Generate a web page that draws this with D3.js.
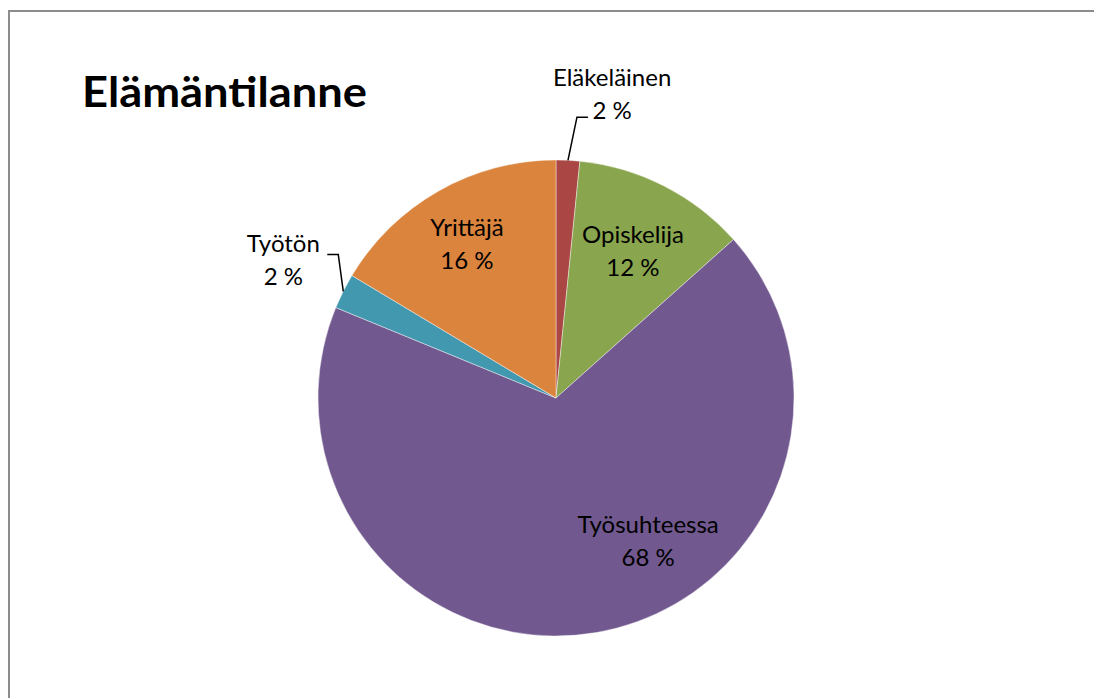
<!DOCTYPE html>
<html>
<head>
    <style>
        body { margin: 0; background: #fff; }
        svg { display: block; }
        .lbl { font-family: Lato, "Open Sans", sans-serif; font-size: 24px; fill: #000; text-anchor: middle; }
        .title { font-family: Lato, "Open Sans", sans-serif; font-size: 42px; font-weight: bold; fill: #000; }
    </style>
    <script src="https://d3js.org/d3.v7.min.js"></script>
</head>
<body>
    <svg width="1094" height="698"></svg>
    <script>
        // data
        var categories = ["Eläkeläinen", "Opiskelija", "Työsuhteessa", "Työtön", "Yrittäjä"];
        var shares = [1.6, 11.8, 67.8, 2.4, 16.4];
        var pctLabels = ["2 %", "12 %", "68 %", "2 %", "16 %"];
        var colors = ["#AA4643", "#89A54E", "#71588F", "#4198AF", "#DB843D"];

        // label placement (polar: radius, angle in degrees clockwise from top)
        var labelPlace = {
            "Eläkeläinen": { r: 308, a: 10.5, outside: true, elbowDy: 22, elbowDx: 9 },
            "Opiskelija": { r: 165, a: 27.8 },
            "Työsuhteessa": { r: 171, a: 147.4 },
            "Työtön": { r: 305, a: 296.6, outside: true, elbowDy: -7, elbowDx: -5 },
            "Yrittäjä": { r: 177, a: 329.8 }
        };

        var svg = d3.select("svg"),
            cx = 556, cy = 398, radius = 238;

        svg.append("rect")
            .attr("x", 9).attr("y", 11)
            .attr("width", 1200).attr("height", 800)
            .attr("fill", "none").attr("stroke", "#8c8c8c").attr("stroke-width", 2);

        svg.append("text").attr("class", "title")
            .attr("x", 82).attr("y", 107)
            .attr("textLength", 285).attr("lengthAdjust", "spacingAndGlyphs")
            .text("Elämäntilanne");

        var data = categories.map(function(c, i) {
            return { name: c, value: shares[i], pct: pctLabels[i], color: colors[i] };
        });

        var pie = d3.pie().sort(null).value(function(d) { return d.value; });
        var arc = d3.arc().innerRadius(0).outerRadius(radius);

        var g = svg.append("g").attr("transform", "translate(" + cx + "," + cy + ")");
        var arcs = pie(data);

        g.selectAll("path").data(arcs).enter().append("path")
            .attr("d", arc)
            .attr("fill", function(d) { return d.data.color; })
            .attr("stroke", "#fff")
            .attr("stroke-width", 0.6)
            .attr("stroke-opacity", 0.7);

        function polar(r, deg) {
            var t = deg * Math.PI / 180;
            return [r * Math.sin(t), -r * Math.cos(t)];
        }

        // leader lines for outside labels
        arcs.forEach(function(d) {
            var p = labelPlace[d.data.name];
            if (!p.outside) return;
            var mid = (d.startAngle + d.endAngle) / 2 * 180 / Math.PI;
            var e = polar(radius, mid);
            var t = polar(p.r, p.a);
            var right = t[0] > e[0];
            var elbowY = t[1] + p.elbowDy;
            var elbowX = e[0] + p.elbowDx;
            var endX = elbowX + (right ? 11 : -11);
            g.append("path")
                .attr("d", d3.line()([e, [elbowX, elbowY], [endX, elbowY]]))
                .attr("fill", "none").attr("stroke", "#000").attr("stroke-width", 1.5);
        });

        var lab = g.selectAll("text.lbl").data(arcs).enter().append("text")
            .attr("class", "lbl")
            .attr("transform", function(d) {
                var p = labelPlace[d.data.name];
                return "translate(" + polar(p.r, p.a) + ")";
            });
        lab.append("tspan").attr("x", 0).attr("y", -9).text(function(d) { return d.data.name; });
        lab.append("tspan").attr("x", 0).attr("y", 24).text(function(d) { return d.data.pct; });
    </script>
</body>
</html>
